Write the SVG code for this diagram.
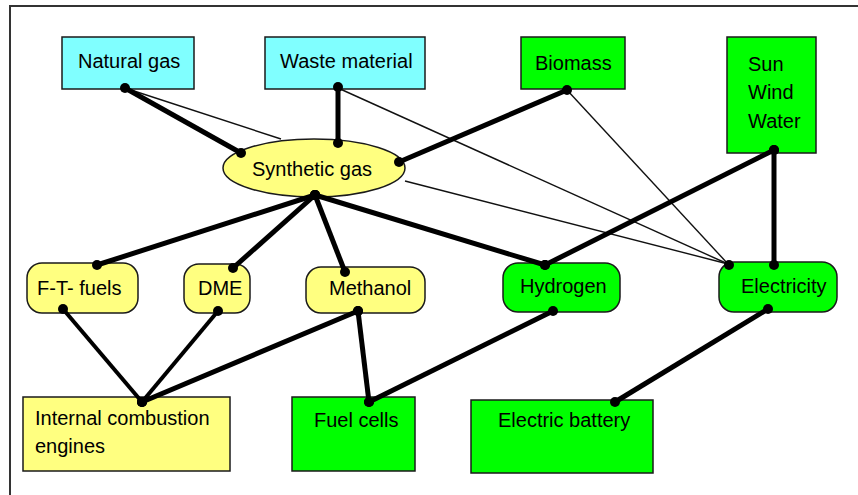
<svg xmlns="http://www.w3.org/2000/svg" width="858" height="495" viewBox="0 0 858 495">
<style>
.box{stroke:#1a1a1a;stroke-width:1.5}
.cyan{fill:#80ffff}
.green{fill:#00ff00}
.yellow{fill:#ffff80}
text{font-family:"Liberation Sans",Arial,sans-serif;font-size:20px;fill:#000}
.thick{stroke:#000;stroke-width:5;fill:none;marker-start:url(#dot);marker-end:url(#dot)}
.med{stroke:#000;stroke-width:4;fill:none;marker-start:url(#dot);marker-end:url(#dot)}
.thin{stroke:#111;stroke-width:1.4;fill:none}
</style>
<defs>
<marker id="dot" markerUnits="userSpaceOnUse" markerWidth="12" markerHeight="12" refX="6" refY="6" viewBox="0 0 12 12"><circle cx="6" cy="6" r="5" fill="#000"/></marker>
</defs>
<rect width="858" height="495" fill="#fff"/>
<path d="M10,495 V6 H858" fill="none" stroke="#333" stroke-width="2"/>
<g id="nodes">
<g id="natural-gas"><rect class="box cyan" x="62" y="37" width="132" height="52"/><text x="78" y="68">Natural gas</text></g>
<g id="waste-material"><rect class="box cyan" x="265" y="37" width="160" height="52"/><text x="280" y="68">Waste material</text></g>
<g id="biomass"><rect class="box green" x="521" y="37" width="104" height="52"/><text x="535" y="70">Biomass</text></g>
<g id="sun-wind-water"><rect class="box green" x="727" y="37" width="89" height="116"/><text x="748" y="71">Sun</text><text x="748" y="99">Wind</text><text x="748" y="128">Water</text></g>
<g id="synthetic-gas"><ellipse class="box yellow" cx="314" cy="168" rx="91" ry="29"/><text x="252" y="176">Synthetic gas</text></g>
<g id="ft-fuels"><rect class="box yellow" x="27" y="263" width="111" height="50" rx="15"/><text x="37" y="295">F-T- fuels</text></g>
<g id="dme"><rect class="box yellow" x="184" y="264" width="66" height="49" rx="15"/><text x="198" y="295">DME</text></g>
<g id="methanol"><rect class="box yellow" x="306" y="267" width="119" height="46" rx="15"/><text x="329" y="295">Methanol</text></g>
<g id="hydrogen"><rect class="box green" x="503" y="263" width="117" height="49" rx="15"/><text x="520" y="293">Hydrogen</text></g>
<g id="electricity"><rect class="box green" x="719" y="262" width="118" height="50" rx="15"/><text x="741" y="293">Electricity</text></g>
<g id="ice"><rect class="box yellow" x="23" y="397" width="207" height="74"/><text x="35" y="425">Internal combustion</text><text x="35" y="453">engines</text></g>
<g id="fuel-cells"><rect class="box green" x="292" y="397" width="123" height="74"/><text x="314" y="427">Fuel cells</text></g>
<g id="electric-battery"><rect class="box green" x="471" y="400" width="182" height="73"/><text x="498" y="427">Electric battery</text></g>
</g>
<g id="connectors">
<line class="thin" x1="131" y1="90" x2="281" y2="139"/>
<line class="thin" x1="405" y1="181" x2="728" y2="264"/>
<line class="thin" x1="338" y1="88" x2="728" y2="264"/>
<line class="thin" x1="567" y1="90" x2="728" y2="264"/>
<circle cx="729" cy="265" r="5" fill="#000"/>
<line class="thick" x1="125" y1="88" x2="241" y2="153"/>
<line class="thick" x1="338" y1="87" x2="338" y2="143"/>
<line class="thick" x1="567" y1="90" x2="399" y2="162"/>
<line class="thick" x1="315" y1="195" x2="97" y2="265"/>
<line class="thick" x1="315" y1="195" x2="233" y2="268"/>
<line class="thick" x1="315" y1="195" x2="345" y2="272"/>
<line class="thick" x1="315" y1="195" x2="545" y2="265"/>
<line class="thick" x1="774" y1="150" x2="545" y2="265"/>
<line class="thick" x1="774" y1="150" x2="774" y2="265"/>
<line class="med" x1="63" y1="309" x2="142" y2="402"/>
<line class="med" x1="218" y1="311" x2="142" y2="402"/>
<line class="thick" x1="358" y1="311" x2="142" y2="402"/>
<line class="thick" x1="358" y1="311" x2="369" y2="402"/>
<line class="thick" x1="553" y1="311" x2="369" y2="402"/>
<line class="thick" x1="768" y1="309" x2="615" y2="402"/>
</g>
</svg>
